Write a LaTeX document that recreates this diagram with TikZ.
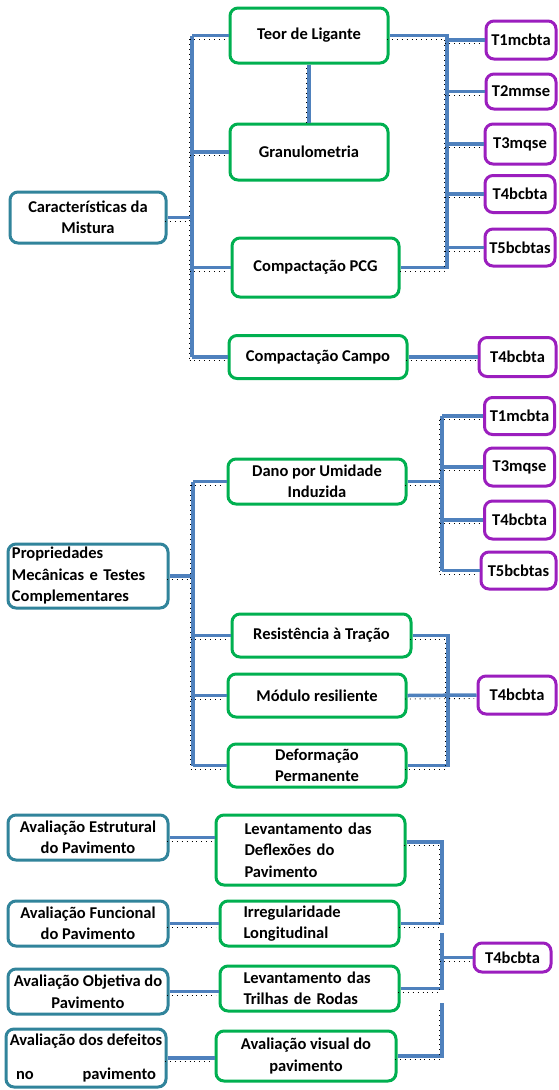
\documentclass[tikz,border=0pt]{standalone}
\usepackage{fontspec}
\setmainfont{Carlito}
\usepackage{tikz}

\definecolor{tealc}{RGB}{49,132,155}
\definecolor{greenc}{RGB}{0,176,80}
\definecolor{purplec}{RGB}{155,30,190}
\definecolor{linkc}{RGB}{79,129,189}

\tikzset{
  boxbase/.style={rounded corners=8pt, line width=3pt, fill=white, inner sep=2pt, align=center,
    font=\bfseries\fontsize{16.5}{21.5}\selectfont},
  mainbox/.style={boxbase, draw=tealc, minimum width=160pt, minimum height=45pt},
  testbox/.style={boxbase, draw=greenc, minimum width=178pt, minimum height=43pt},
  tracebox/.style={boxbase, draw=purplec, minimum width=70pt, minimum height=37pt},
  conn/.style={draw=linkc, line width=3.5pt,
    postaction={draw=black, line width=0.9pt, dash pattern=on 0.9pt off 4pt,
      transform canvas={shift={(-2.5pt,-3.5pt)}}}},
}

\begin{document}
\begin{tikzpicture}[x=1pt,y=-1pt]
\useasboundingbox[fill=white] (0,0) rectangle (558,1090);

% caracteristicas da mistura
\node[mainbox, minimum width=156pt, minimum height=51pt] (mist) at (88,217.5) {Características da\\Mistura};
\node[testbox, minimum width=158pt, minimum height=55pt] (teor) at (309,35.5) {Teor de Ligante};
\node[testbox, minimum width=158pt, minimum height=56pt] (gran) at (309,152) {Granulometria};
\node[testbox, minimum width=167pt, minimum height=59pt] (pcg) at (315.5,267.5) {Compactação PCG};
\node[testbox] (campo) at (318,357) {Compactação Campo};
\node[tracebox, minimum height=38pt] (t1) at (521,40) {T1mcbta};
\node[tracebox, minimum height=35pt] (t2) at (521,91.5) {T2mmse};
\node[tracebox, minimum height=40pt] (t3) at (520,144) {T3mqse};
\node[tracebox] (t4) at (520,194) {T4bcbta};
\node[tracebox] (t5) at (520,247.5) {T5bcbtas};
\node[tracebox, minimum width=77pt, minimum height=39pt] (t4b) at (517.5,357) {T4bcbta};

\coordinate (ta) at (192,0);
\coordinate (tb) at (447,0);
\draw[conn] (ta |- teor.west) -- (ta |- campo.west);
\draw[conn] (mist.east) -- (ta |- mist.east);
\draw[conn] (ta |- teor.west) -- (teor.west);
\draw[conn] (ta |- gran.west) -- (gran.west);
\draw[conn] (ta |- pcg.west) -- (pcg.west);
\draw[conn] (ta |- campo.west) -- (campo.west);
\draw[conn] (teor.south) -- (gran.north);
\draw[conn] (teor.east) -| (tb |- pcg.east) -- (pcg.east);
\draw[conn] (tb |- t1.west) -- (t1.west);
\draw[conn] (tb |- t2.west) -- (t2.west);
\draw[conn] (tb |- t3.west) -- (t3.west);
\draw[conn] (tb |- t4.west) -- (t4.west);
\draw[conn] (tb |- t5.west) -- (t5.west);
\draw[conn] (campo.east) -- (t4b.west);

% propriedades mecanicas
\node[mainbox, minimum height=64pt, align=left, text width=152pt] (prop) at (88,576) {Propriedades\\Mecânicas e Testes\\Complementares};
\node[testbox, minimum height=45pt] (dano) at (317,481.5) {Dano por Umidade\\Induzida};
\node[testbox, minimum width=179pt] (res) at (321.5,635.5) {Resistência à Tração};
\node[testbox] (mod) at (317,695.5) {Módulo resiliente};
\node[testbox] (def) at (317,765.5) {Deformação\\Permanente};
\node[tracebox] (m1) at (519.5,416) {T1mcbta};
\node[tracebox, minimum height=38pt] (m3) at (519.5,467) {T3mqse};
\node[tracebox, minimum height=38pt] (m4) at (519.5,520) {T4bcbta};
\node[tracebox, minimum width=75pt] (m5) at (518.5,570.5) {T5bcbtas};
\node[tracebox, minimum width=78pt, minimum height=38pt] (t4m) at (517,695) {T4bcbta};

\coordinate (ma) at (193,0);
\coordinate (mb) at (442,0);
\coordinate (mc) at (448,0);
\draw[conn] (ma |- dano.west) -- (ma |- def.west);
\draw[conn] (prop.east) -- (ma |- prop.east);
\draw[conn] (ma |- dano.west) -- (dano.west);
\draw[conn] (ma |- res.west) -- (res.west);
\draw[conn] (ma |- mod.west) -- (mod.west);
\draw[conn] (ma |- def.west) -- (def.west);
\draw[conn] (mb |- m1.west) -- (mb |- m5.west);
\draw[conn] (dano.east) -- (mb |- dano.east);
\draw[conn] (mb |- m1.west) -- (m1.west);
\draw[conn] (mb |- m3.west) -- (m3.west);
\draw[conn] (mb |- m4.west) -- (m4.west);
\draw[conn] (mb |- m5.west) -- (m5.west);
\draw[conn] (res.east) -| (mc |- def.east) -- (def.east);
\draw[conn] (mod.east) -- (t4m.west);

% avaliacao do pavimento
\node[mainbox] (estr) at (88,837.5) {Avaliação Estrutural\\do Pavimento};
\node[mainbox] (func) at (88,923.5) {Avaliação Funcional\\do Pavimento};
\node[mainbox] (obj) at (88,991.5) {Avaliação Objetiva do\\Pavimento};
\node[mainbox, minimum height=58pt] (defe) at (86,1058) {Avaliação dos defeitos\\[12.5pt]\makebox[140pt]{no\hfill pavimento}};
\node[testbox, minimum width=189pt, minimum height=70pt, align=left, text width=132pt] (lev) at (310.5,850) {Levantamento das\\Deflexões do\\Pavimento};
\node[testbox, minimum width=179pt, minimum height=45pt, align=left, text width=132pt] (irr) at (309.5,923.5) {Irregularidade\\Longitudinal};
\node[testbox, minimum width=179pt, minimum height=45pt, align=left, text width=132pt] (tri) at (309.5,988.5) {Levantamento das\\Trilhas de Rodas};
\node[testbox, minimum width=180pt, minimum height=50pt] (vis) at (306,1056) {Avaliação visual do\\pavimento};
\node[tracebox, minimum width=77pt, minimum height=29pt] (t4c) at (512.5,957.5) {T4bcbta};

\coordinate (bx) at (442,0);
\coordinate (g1) at (442,933);
\coordinate (g2) at (442,1003);
\draw[conn] (estr.east) -- (estr.east -| lev.west);
\draw[conn] (func.east) -- (irr.west);
\draw[conn] (obj.east) -- (obj.east -| tri.west);
\draw[conn] (defe.east) -- (defe.east -| vis.west);
\draw[conn] ([yshift=8pt]lev.east) -| (bx |- irr.east) -- (irr.east);
\draw[conn] (tri.east) -| (g1);
\draw[conn] (vis.east) -| (g2);
\draw[conn] (g1 |- t4c.west) -- (t4c.west);
\end{tikzpicture}
\end{document}
